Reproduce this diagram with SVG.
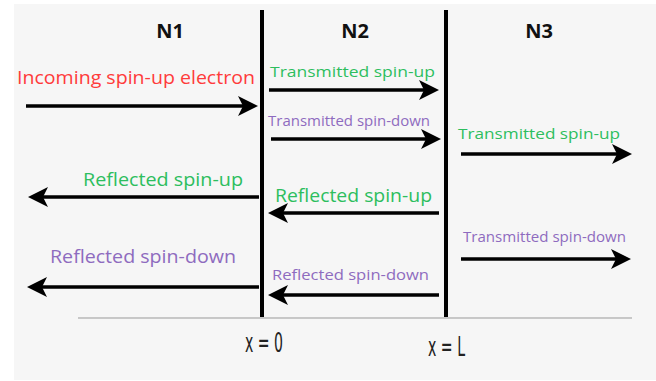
<svg xmlns="http://www.w3.org/2000/svg" width="656" height="381" viewBox="0 0 656 381">
<style>
.t{font-family:"Open Sans","Liberation Sans",sans-serif}
.h{font-family:"Open Sans","Liberation Sans",sans-serif;font-weight:bold;font-size:20px;fill:#111;text-anchor:middle}
.red{fill:#ff3b3b}
.grn{fill:#2dbe5e}
.pur{fill:#8e6bbf}
.arr{stroke:#000;stroke-width:3.5;fill:none;marker-end:url(#ah)}
.wall{stroke:#000;stroke-width:4}
.xl{font-family:"DejaVu Sans Condensed","Liberation Sans",sans-serif;font-size:26px;fill:#222}
</style>
<defs>
<marker id="ah" markerUnits="userSpaceOnUse" markerWidth="22" markerHeight="22" refX="7" refY="10" orient="auto">
<path d="M0,0 L20,10 L0,20 L5,10 z" fill="#000"/>
</marker>
</defs>
<rect x="14" y="4" width="642" height="376" fill="#f6f6f6"/>
<g id="axis">
<line x1="78" y1="318" x2="632" y2="318" stroke="#999" stroke-width="1"/>
<line class="wall" x1="262" y1="10" x2="262" y2="317"/>
<line class="wall" x1="446" y1="10" x2="446" y2="317"/>
</g>
<g id="regions">
<text class="h" x="170" y="38">N1</text>
<text class="h" x="355" y="38">N2</text>
<text class="h" x="539" y="38">N3</text>
<text class="xl" x="245" y="352" textLength="38" lengthAdjust="spacingAndGlyphs">x = 0</text>
<text class="xl" x="428" y="356" textLength="37" lengthAdjust="spacingAndGlyphs">x = L</text>
</g>
<g id="connectors">
<line class="arr" x1="26" y1="106" x2="245" y2="106"/>
<line class="arr" x1="269" y1="90" x2="426" y2="90"/>
<line class="arr" x1="271" y1="139" x2="428" y2="139"/>
<line class="arr" x1="461" y1="154" x2="619" y2="154"/>
<line class="arr" x1="259" y1="197" x2="41" y2="197"/>
<line class="arr" x1="439" y1="213" x2="281" y2="213"/>
<line class="arr" x1="259" y1="287" x2="40" y2="287"/>
<line class="arr" x1="439" y1="295" x2="281" y2="295"/>
<line class="arr" x1="461" y1="259" x2="618" y2="259"/>
</g>
<g id="labels">
<text class="t red" x="17" y="84" font-size="18" textLength="238" lengthAdjust="spacingAndGlyphs">Incoming spin-up electron</text>
<text class="t grn" x="270" y="77" font-size="15" textLength="165" lengthAdjust="spacingAndGlyphs">Transmitted spin-up</text>
<text class="t pur" x="268" y="126" font-size="14" textLength="162" lengthAdjust="spacingAndGlyphs">Transmitted spin-down</text>
<text class="t grn" x="458" y="139" font-size="15" textLength="162" lengthAdjust="spacingAndGlyphs">Transmitted spin-up</text>
<text class="t grn" x="83" y="186" font-size="18" textLength="160" lengthAdjust="spacingAndGlyphs">Reflected spin-up</text>
<text class="t grn" x="275" y="202" font-size="18" textLength="157" lengthAdjust="spacingAndGlyphs">Reflected spin-up</text>
<text class="t pur" x="50" y="263" font-size="18" textLength="186" lengthAdjust="spacingAndGlyphs">Reflected spin-down</text>
<text class="t pur" x="272" y="280" font-size="15" textLength="157" lengthAdjust="spacingAndGlyphs">Reflected spin-down</text>
<text class="t pur" x="463" y="242" font-size="14" textLength="163" lengthAdjust="spacingAndGlyphs">Transmitted spin-down</text>
</g>
</svg>
